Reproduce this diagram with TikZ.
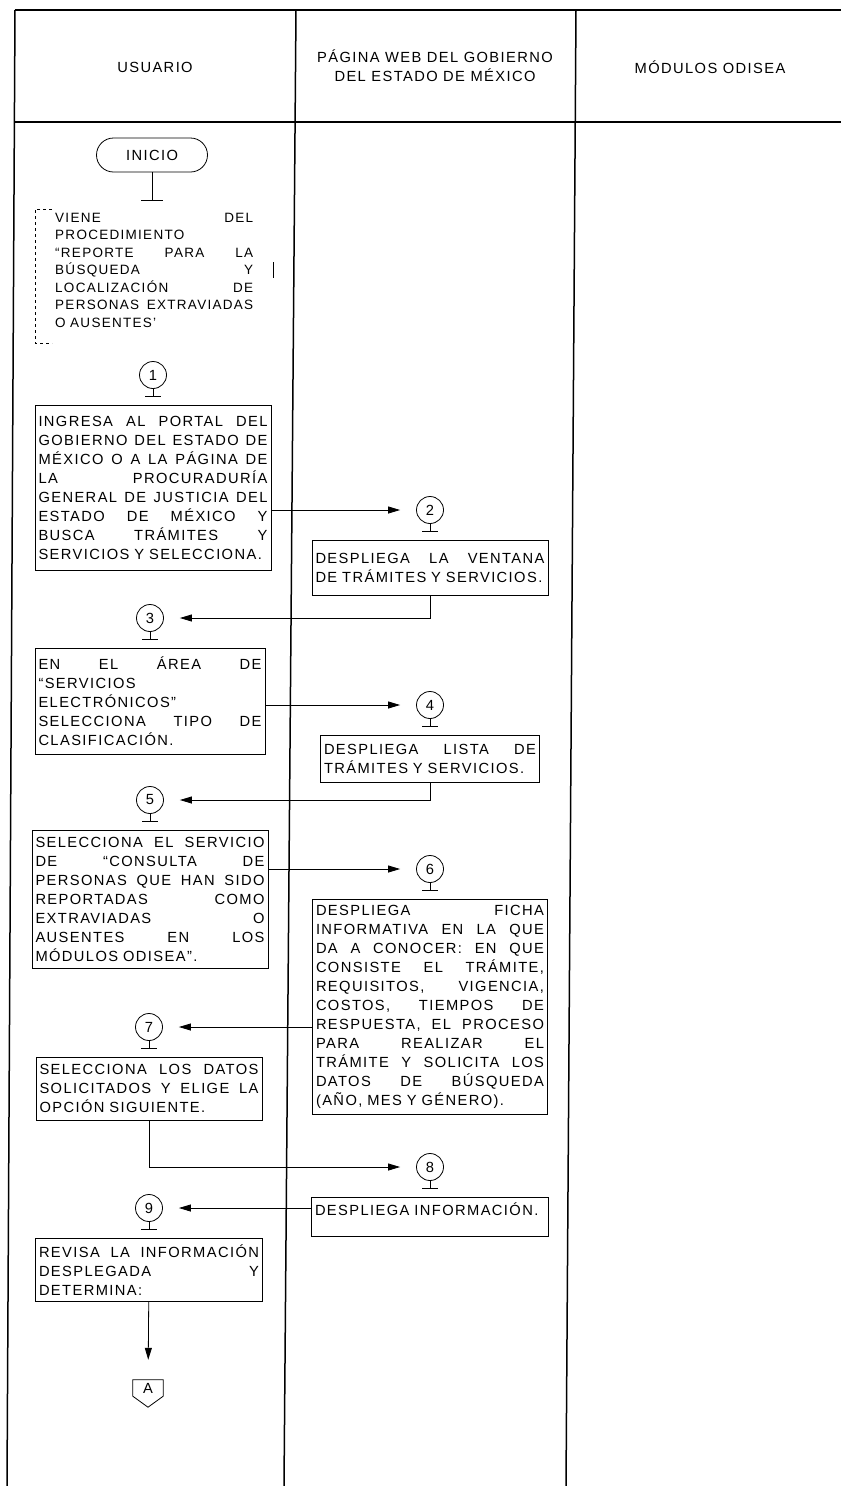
\documentclass[tikz,border=0pt]{standalone}
\usepackage{fontspec}
\setmainfont{Liberation Sans}[LetterSpace=9.5]
\usetikzlibrary{arrows.meta, positioning}

% justified line: words spread over the full width
\def\just#1{\leavevmode\hbox to \hsize{\justw#1 \justend}}
\def\justw#1 #2\justend{#1\if\relax\detokenize{#2}\relax\else\hfill\justw#2\justend\fi}
\newcommand{\txtpaso}{\fontsize{14.7}{19}\selectfont}
\newcommand{\txtnota}{\fontsize{13.5}{17.5}\selectfont}

\begin{document}
\begin{tikzpicture}[
    x=1pt, y=-1pt, >={Triangle[length=12pt, width=7pt]},
    node distance=16pt,
    carril/.style={line width=1.5pt},
    paso/.style={draw, line width=0.8pt, inner xsep=3.5pt, inner ysep=4pt,
        align=left, font=\txtpaso},
    num/.style={draw, circle, line width=0.8pt, minimum size=27pt,
        inner sep=0pt, font=\txtpaso},
    flecha/.style={->, line width=0.8pt, shorten >=16pt}
  ]
  \useasboundingbox (0,0) rectangle (841,1486);

  % table of lanes
  \draw[carril] (15,10) -- (841,10);
  \draw[carril] (15,122) -- (841,122);
  \draw[carril] (15,10) -- (7,1486);
  \draw[carril] (296,10) -- (284,1486);
  \draw[carril] (576,10) -- (566,1486);

  \node[font=\txtpaso] (usuario) at (155,67) {USUARIO};
  \node[font=\txtpaso, align=center] (pagina) at (435,66)
    {PÁGINA WEB DEL GOBIERNO\\DEL ESTADO DE MÉXICO};
  \node[font=\txtpaso] (modulos) at (710,67) {MÓDULOS ODISEA};

  % start
  \node[draw, line width=0.8pt, rounded corners=17pt, minimum width=111pt,
    minimum height=34pt, font=\txtpaso] (ini) at (152,155) {INICIO};
  \draw[line width=0.8pt] (ini.south) -- ++(0,28) ++(-11,0) -- ++(22,0);

  \node[anchor=north west, text width=198pt, inner sep=0pt, align=left,
    font=\txtnota] (nota) at (55,213)
    {\just{VIENE DEL}\\
     PROCEDIMIENTO\\
     \just{“REPORTE PARA LA}\\
     \just{BÚSQUEDA Y}\\
     \just{LOCALIZACIÓN DE}\\
     \just{PERSONAS EXTRAVIADAS}\\
     O AUSENTES'};
  \draw[dashed, line width=0.6pt] (52,209) -- (35,209) -- (35,343) -- (52,343);
  \draw[line width=0.6pt] (273,262) -- (273,278);

  % steps
  \node[num] (c1) at (153,375) {1};
  \node[paso, text width=229pt, minimum height=165pt, below=of c1] (p1)
    {\just{INGRESA AL PORTAL DEL}\\
     \just{GOBIERNO DEL ESTADO DE}\\
     \just{MÉXICO O A LA PÁGINA DE}\\
     \just{LA PROCURADURÍA}\\
     \just{GENERAL DE JUSTICIA DEL}\\
     \just{ESTADO DE MÉXICO Y}\\
     \just{BUSCA TRÁMITES Y}\\
     SERVICIOS Y SELECCIONA.};

  \node[num] (c2) at (430,510) {2};
  \node[paso, text width=229pt, minimum height=55pt, below=of c2] (p2)
    {\just{DESPLIEGA LA VENTANA}\\
     DE TRÁMITES Y SERVICIOS.};

  \node[num] (c3) at (150,618) {3};
  \node[paso, text width=223pt, minimum height=106pt, below=of c3] (p3)
    {\just{EN EL ÁREA DE}\\
     “SERVICIOS\\
     ELECTRÓNICOS”\\
     \just{SELECCIONA TIPO DE}\\
     CLASIFICACIÓN.};

  \node[num] (c4) at (430,705) {4};
  \node[paso, text width=212pt, minimum height=47pt, below=of c4] (p4)
    {\just{DESPLIEGA LISTA DE}\\
     TRÁMITES Y SERVICIOS.};

  \node[num] (c5) at (150,800) {5};
  \node[paso, text width=229pt, minimum height=138pt, below=of c5] (p5)
    {\just{SELECCIONA EL SERVICIO}\\
     \just{DE “CONSULTA DE}\\
     \just{PERSONAS QUE HAN SIDO}\\
     \just{REPORTADAS COMO}\\
     \just{EXTRAVIADAS O}\\
     \just{AUSENTES EN LOS}\\
     MÓDULOS ODISEA”.};

  \node[num] (c6) at (430,869) {6};
  \node[paso, text width=228pt, minimum height=215pt, below=of c6] (p6)
    {\just{DESPLIEGA FICHA}\\
     \just{INFORMATIVA EN LA QUE}\\
     \just{DA A CONOCER: EN QUE}\\
     \just{CONSISTE EL TRÁMITE,}\\
     \just{REQUISITOS, VIGENCIA,}\\
     \just{COSTOS, TIEMPOS DE}\\
     \just{RESPUESTA, EL PROCESO}\\
     \just{PARA REALIZAR EL}\\
     \just{TRÁMITE Y SOLICITA LOS}\\
     \just{DATOS DE BÚSQUEDA}\\
     (AÑO, MES Y GÉNERO).};

  \node[num] (c7) at (149,1027) {7};
  \node[paso, text width=219pt, minimum height=63pt, below=of c7] (p7)
    {\just{SELECCIONA LOS DATOS}\\
     \just{SOLICITADOS Y ELIGE LA}\\
     OPCIÓN SIGUIENTE.};

  \node[num] (c8) at (430,1167) {8};
  \node[paso, text width=230pt, minimum height=39pt, text depth=16pt,
    below=of c8] (p8)
    {DESPLIEGA INFORMACIÓN.};

  \node[num] (c9) at (149,1208) {9};
  \node[paso, text width=220pt, minimum height=63pt, below=of c9] (p9)
    {\just{REVISA LA INFORMACIÓN}\\
     \just{DESPLEGADA Y}\\
     DETERMINA:};

  \node[minimum width=30pt, minimum height=16pt, inner sep=0pt,
    font=\txtpaso] (conA) at (148,1388) {A};
  \draw[line width=0.8pt] (conA.south west) -- (conA.north west)
    -- (conA.north east) -- (conA.south east)
    -- ([yshift=-11pt]conA.south) -- cycle;

  % stems under the numbers
  \draw[line width=0.8pt] (c1.south) -- ++(0,7) ++(-8,0) -- ++(16,0);
  \draw[line width=0.8pt] (c2.south) -- ++(0,7) ++(-8,0) -- ++(16,0);
  \draw[line width=0.8pt] (c3.south) -- ++(0,7) ++(-8,0) -- ++(16,0);
  \draw[line width=0.8pt] (c4.south) -- ++(0,7) ++(-8,0) -- ++(16,0);
  \draw[line width=0.8pt] (c5.south) -- ++(0,7) ++(-8,0) -- ++(16,0);
  \draw[line width=0.8pt] (c6.south) -- ++(0,7) ++(-8,0) -- ++(16,0);
  \draw[line width=0.8pt] (c7.south) -- ++(0,7) ++(-8,0) -- ++(16,0);
  \draw[line width=0.8pt] (c8.south) -- ++(0,7) ++(-8,0) -- ++(16,0);
  \draw[line width=0.8pt] (c9.south) -- ++(0,7) ++(-8,0) -- ++(16,0);

  % flow
  \draw[flecha] (p1.east |- c2) -- (c2);
  \draw[flecha] (p2.south) |- (c3);
  \draw[flecha] (p3.east |- c4) -- (c4);
  \draw[flecha] (p4.south) |- (c5);
  \draw[flecha] (p5.east |- c6) -- (c6);
  \draw[flecha] (p6.west |- c7) -- (c7);
  \draw[flecha] (p7.south) |- (c8);
  \draw[flecha] (p8.west |- c9) -- (c9);
  \draw[flecha, shorten >=20pt] (p9) -- (conA);
\end{tikzpicture}
\end{document}
